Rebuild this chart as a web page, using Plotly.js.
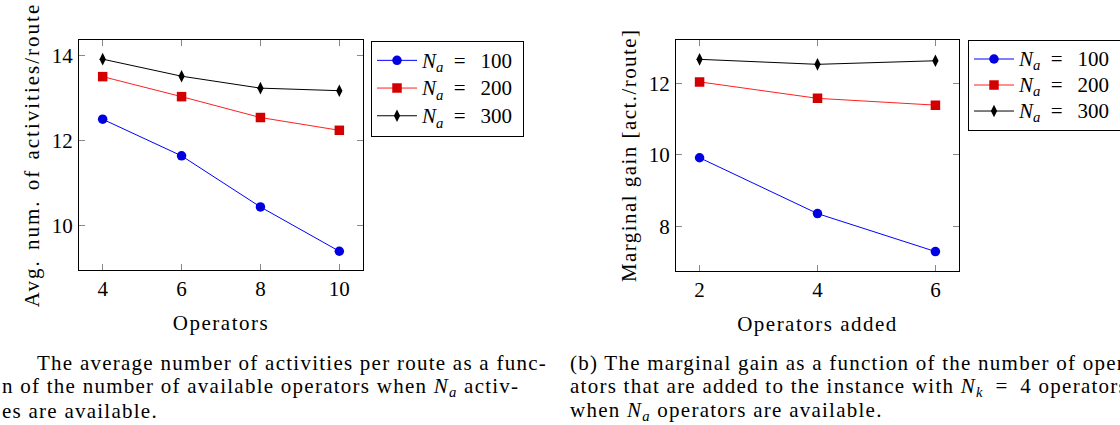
<!DOCTYPE html>
<html>
<head>
<meta charset="utf-8">
<script src="https://cdn.plot.ly/plotly-3.0.1.min.js"></script>
<style>
html,body{margin:0;padding:0;background:#fff;}
#chart{width:1120px;height:425px;}
#chart text.annotation-text{letter-spacing:1.25px;}
#chart text.xtitle, #chart text.x2title{letter-spacing:1.5px;}
#chart text.ytitle{letter-spacing:2px;word-spacing:2px;}
#chart text.y2title{letter-spacing:1.45px;}
</style>
</head>
<body>
<div id="chart"></div>
<script>
// ---- Data ----
const operators = [4, 6, 8, 10];
const leftNa100 = [12.50, 11.64, 10.44, 9.40];
const leftNa200 = [13.50, 13.03, 12.54, 12.24];
const leftNa300 = [13.91, 13.51, 13.23, 13.17];

const operatorsAdded = [2, 4, 6];
const rightNa100 = [9.92, 8.36, 7.30];
const rightNa200 = [12.04, 11.58, 11.39];
const rightNa300 = [12.67, 12.53, 12.63];

const naValues = ['100', '200', '300'];
const seriesNames = naValues.map(v =>
  '<span style="font-size:21px"><i>N<sub>a</sub></i>\u2002=\u2002\u2009' + v + '\u2009</span>');
const leftYTicks = [10, 12, 14];
const rightYTicks = [8, 10, 12];

const FONT = 'Liberation Serif, DejaVu Serif, serif';
const styles = [
  {line: '#0000ff', marker: '#0000e0', symbol: 'circle', size: 9.5},
  {line: '#ff2020', marker: '#d40000', symbol: 'square', size: 9.5},
  {line: '#000000', marker: '#000000', symbol: 'diamond-tall', size: 9}
];

function mk(x, y, i, xa, ya, leg) {
  return {
    x: x, y: y, type: 'scatter', mode: 'lines+markers', name: seriesNames[i],
    xaxis: xa, yaxis: ya, legend: leg,
    line: {color: styles[i].line, width: 1},
    marker: {color: styles[i].marker, symbol: styles[i].symbol, size: styles[i].size, line: {width: 0}}
  };
}

const data = [
  mk(operators, leftNa100, 0, 'x', 'y', 'legend'),
  mk(operators, leftNa200, 1, 'x', 'y', 'legend'),
  mk(operators, leftNa300, 2, 'x', 'y', 'legend'),
  mk(operatorsAdded, rightNa100, 0, 'x2', 'y2', 'legend2'),
  mk(operatorsAdded, rightNa200, 1, 'x2', 'y2', 'legend2'),
  mk(operatorsAdded, rightNa300, 2, 'x2', 'y2', 'legend2')
];

const axisCommon = {
  showline: true, linecolor: '#000', linewidth: 1, mirror: 'ticks',
  ticks: 'inside', ticklen: 6, tickcolor: '#888', tickwidth: 1,
  showgrid: false, zeroline: false, automargin: false,
  tickfont: {family: FONT, size: 21, color: '#000'}
};

const legendCommon = {
  bgcolor: '#fff', bordercolor: '#000', borderwidth: 1,
  xref: 'paper', yref: 'paper', xanchor: 'left', yanchor: 'top',
  tracegroupgap: 0, itemwidth: 40
};

const capFont = {family: FONT, size: 21, color: '#000'};
function cap(text, x, y) {
  return {text: text, x: x, y: y, xref: 'paper', yref: 'paper', xanchor: 'left', yanchor: 'middle',
    showarrow: false, align: 'left', font: capFont};
}

const layout = {
  width: 1120, height: 425,
  margin: {l: 0, r: 0, t: 0, b: 0, autoexpand: false},
  paper_bgcolor: '#fff', plot_bgcolor: '#fff',
  font: {family: FONT, color: '#000'},
  xaxis: Object.assign({}, axisCommon, {
    domain: [79/1120, 363/1120], range: [3.4, 10.6], tickvals: operators, anchor: 'y',
    title: {text: 'Operators', font: {family: FONT, size: 21}, standoff: 15}
  }),
  yaxis: Object.assign({}, axisCommon, {
    domain: [(425-270)/425, (425-40)/425], range: [8.96, 14.36], tickvals: leftYTicks, anchor: 'x',
    ticklabelstandoff: 1,
    title: {text: 'Avg. num. of activities/route', font: {family: FONT, size: 21}, standoff: 6}
  }),
  xaxis2: Object.assign({}, axisCommon, {
    domain: [676/1120, 959/1120], range: [1.6, 6.4], tickvals: operatorsAdded, anchor: 'y2',
    title: {text: 'Operators added', font: {family: FONT, size: 21}, standoff: 15}
  }),
  yaxis2: Object.assign({}, axisCommon, {
    domain: [(425-270.5)/425, (425-40)/425], range: [6.77, 13.21], tickvals: rightYTicks, anchor: 'x2',
    ticklabelstandoff: 1,
    title: {text: 'Marginal gain [act./route]', font: {family: FONT, size: 21}, standoff: 6}
  }),
  legend: Object.assign({}, legendCommon, {x: 371/1120, y: (425-40.5)/425,
    font: {family: FONT, size: 19, color: '#000'}}),
  legend2: Object.assign({}, legendCommon, {x: 968/1120, y: (425-40)/425,
    font: {family: FONT, size: 17.7, color: '#000'}}),
  annotations: [
    cap('The average number of activities per route as a func-', 35/1120, 1 - 363/425),
    cap('n of the number of available operators when <i>N<sub>a</sub></i> activ-', 0, 1 - 387/425),
    cap('es are available.', 0, 1 - 411/425),
    cap('(b) The marginal gain as a function of the number of oper-', 568/1120, 1 - 363/425),
    cap('ators that are added to the instance with <i>N<sub>k</sub></i>\u2002=\u20024 operators', 568/1120, 1 - 387/425),
    cap('when <i>N<sub>a</sub></i> operators are available.', 568/1120, 1 - 411/425)
  ],
  showlegend: true
};

Plotly.newPlot('chart', data, layout, {staticPlot: true, displayModeBar: false});
</script>
</body>
</html>
